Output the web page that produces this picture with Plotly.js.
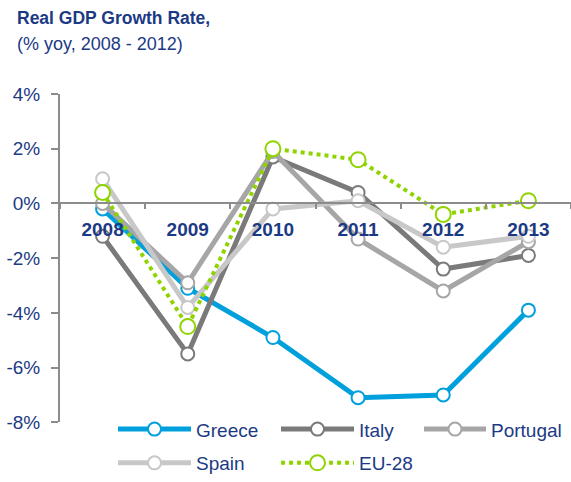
<!DOCTYPE html>
<html>
<head>
<meta charset="utf-8">
<script src="https://cdn.plot.ly/plotly-3.0.1.min.js"></script>
<style>html,body{margin:0;padding:0;background:#fff;}#chart{width:571px;height:482px;}</style>
</head>
<body>
<div id="chart"></div>
<script>
const years = ["2008", "2009", "2010", "2011", "2012", "2013"];
const greece = [-0.2, -3.1, -4.9, -7.1, -7.0, -3.9];
const italy = [-1.2, -5.5, 1.7, 0.4, -2.4, -1.9];
const portugal = [0.0, -2.9, 1.9, -1.3, -3.2, -1.4];
const spain = [0.9, -3.8, -0.2, 0.1, -1.6, -1.2];
const eu28 = [0.4, -4.5, 2.0, 1.6, -0.4, 0.1];
const yTickVals = [4, 2, 0, -2, -4, -6, -8];
const yTickText = ["4%", "2%", "0%", "-2%", "-4%", "-6%", "-8%"];
const titleLine1 = "Real GDP Growth Rate,";
const titleLine2 = "(% yoy, 2008 - 2012)";

const navy = "#1c3a84";
const font = "Liberation Sans, Arial, sans-serif";

// layout geometry (pixels)
const W = 571, H = 482, ML = 60, MT = 94;
const PW = W - ML, PH = H - MT;           // plot area (margin b = 0)
const axisBottomPx = 424;                 // y pixel of -8%
const yDom0 = (H - axisBottomPx) / PH;
const px2x = function (px) { return (px - ML) / PW; };
const px2y = function (py) { return (H - py) / PH; };

function series(name, y, color, legend, opts) {
  opts = opts || {};
  return {
    type: "scatter", mode: "lines+markers", name: name, x: years, y: y,
    legend: legend,
    line: {color: color, width: opts.width || 5, dash: opts.dash || "solid"},
    marker: {symbol: "circle", size: opts.msize || 13, color: "#ffffff",
             line: {color: color, width: 2}},
    cliponaxis: false
  };
}

const data = [
  series("Greece", greece, "#00a0dc", "legend"),
  series("Italy", italy, "#7a7a7a", "legend"),
  series("Portugal", portugal, "#a6a6a6", "legend2"),
  series("Spain", spain, "#c8c8c8", "legend3"),
  series("EU-28", eu28, "#8fd400", "legend3", {dash: "dot", width: 4, msize: 15})
];

const legendBase = {
  orientation: "h", xanchor: "left", yanchor: "middle",
  entrywidth: 75, entrywidthmode: "pixels",
  font: {family: font, size: 19, color: navy},
  bgcolor: "rgba(0,0,0,0)", itemwidth: 73, borderwidth: 0
};

const layout = {
  width: W, height: H,
  margin: {l: ML, r: 0, t: MT, b: 0},
  paper_bgcolor: "#fff", plot_bgcolor: "#fff",
  font: {family: font, color: navy, size: 17},
  showlegend: true,
  annotations: [
    {text: "<b>" + titleLine1 + "</b>", xref: "paper", yref: "paper",
     x: px2x(15), y: px2y(18), xanchor: "left", yanchor: "middle",
     showarrow: false, font: {family: font, size: 17.5, color: navy}},
    {text: titleLine2, xref: "paper", yref: "paper",
     x: px2x(15), y: px2y(44), xanchor: "left", yanchor: "middle",
     showarrow: false, font: {family: font, size: 18, color: navy}}
  ],
  xaxis: {
    type: "category", range: [-0.5, 5.5],
    anchor: "free", position: yDom0 + (1 - yDom0) * 8 / 12,
    showline: true, linecolor: "#8c8c8c", linewidth: 2,
    ticks: "outside", tickson: "boundaries", ticklen: 5, tickcolor: "#8c8c8c", tickwidth: 2,
    showgrid: false, zeroline: false,
    tickfont: {family: font, size: 19, color: navy, weight: "bold"},
    ticklabelstandoff: 9
  },
  yaxis: {
    domain: [yDom0, 1],
    range: [-8, 4], tickvals: yTickVals, ticktext: yTickText,
    showline: true, linecolor: "#8c8c8c", linewidth: 2,
    ticks: "outside", ticklen: 7, tickcolor: "#8c8c8c", tickwidth: 2,
    showgrid: false, zeroline: false,
    tickfont: {family: font, size: 19, color: navy},
    ticklabelstandoff: 7
  },
  legend: Object.assign({}, legendBase, {x: px2x(113), y: px2y(431)}),
  legend2: Object.assign({}, legendBase, {x: 1, xanchor: "right", y: px2y(431), itemwidth: 62}),
  legend3: Object.assign({}, legendBase, {x: px2x(113), y: px2y(465)})
};

Plotly.newPlot("chart", data, layout, {displayModeBar: false, staticPlot: true});
</script>
</body>
</html>
